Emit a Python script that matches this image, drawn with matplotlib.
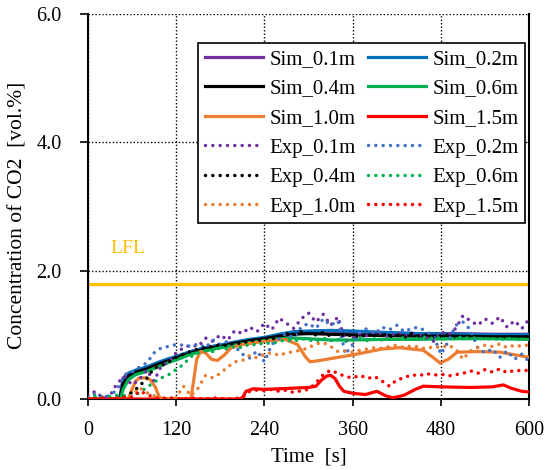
import matplotlib
matplotlib.use("Agg")
import matplotlib.pyplot as plt
import numpy as np

plt.rcParams['font.family'] = ['Liberation Serif', 'DejaVu Serif']

# ---------------- data ----------------
t_sim = [0, 40, 44, 48, 55, 65, 80, 95, 110, 125, 140, 160, 180, 200, 220, 240,
         260, 280, 300, 330, 360, 400, 450, 500, 550, 600]
sim_01 = [0, 0, 0.05, 0.33, 0.40, 0.44, 0.48, 0.55, 0.62, 0.68, 0.74, 0.80, 0.84, 0.88,
          0.92, 0.95, 1.00, 1.04, 1.05, 1.06, 1.05, 1.03, 1.02, 1.02, 1.01, 1.01]
sim_02 = [0, 0, 0.03, 0.30, 0.40, 0.45, 0.50, 0.57, 0.63, 0.68, 0.74, 0.80, 0.84, 0.89,
          0.93, 0.96, 1.01, 1.05, 1.06, 1.07, 1.06, 1.04, 1.02, 1.01, 1.00, 1.00]
sim_04 = [0, 0, 0.02, 0.25, 0.36, 0.42, 0.47, 0.54, 0.60, 0.66, 0.72, 0.78, 0.82, 0.87,
          0.91, 0.94, 0.98, 1.01, 1.02, 1.01, 1.00, 0.99, 0.98, 0.98, 0.97, 0.97]
sim_06 = [0, 0, 0, 0.15, 0.30, 0.38, 0.43, 0.50, 0.57, 0.63, 0.70, 0.75, 0.80, 0.84,
          0.88, 0.91, 0.94, 0.95, 0.94, 0.92, 0.92, 0.93, 0.93, 0.94, 0.94, 0.93]

t_sim_10 = [0, 55, 60, 65, 70, 78, 85, 92, 98, 140, 144, 148, 153, 160, 168, 176, 185,
            195, 210, 240, 268, 285, 295, 302, 315, 335, 361, 400, 424, 456, 468, 479,
            490, 502, 530, 560, 590, 600]
sim_10 = [0, 0, 0.15, 0.28, 0.33, 0.33, 0.30, 0.18, 0, 0, 0.30, 0.62, 0.74, 0.72, 0.62,
          0.60, 0.68, 0.80, 0.85, 0.90, 0.93, 0.85, 0.67, 0.58, 0.60, 0.64, 0.69, 0.78,
          0.80, 0.76, 0.66, 0.56, 0.62, 0.73, 0.74, 0.73, 0.67, 0.65]

t_sim_15 = [0, 205, 210, 215, 225, 240, 260, 280, 300, 310, 318, 325, 330, 336, 342,
            348, 360, 377, 393, 405, 415, 430, 445, 456, 480, 520, 550, 565, 575, 590, 600]
sim_15 = [0, 0, 0.02, 0.12, 0.16, 0.15, 0.16, 0.17, 0.18, 0.20, 0.30, 0.36, 0.37, 0.32,
          0.20, 0.12, 0.09, 0.07, 0.12, 0.05, 0.02, 0.06, 0.15, 0.20, 0.19, 0.18, 0.19,
          0.22, 0.17, 0.12, 0.11]

t_exp = list(range(0, 601, 10))
exp_01 = [0.05, 0.12, 0.02, 0.05, 0.25, 0.35, 0.22, 0.30, 0.45, 0.28, 0.52, 0.58, 0.72,
          0.80, 0.84, 0.82, 0.95, 0.90, 1.00, 0.92, 1.07, 1.02, 1.12, 1.05, 1.18, 1.08,
          1.26, 1.18, 1.10, 1.25, 1.34, 1.20, 1.32, 1.15, 1.28, 0.90, 0.95, 1.02, 0.98,
          1.05, 1.00, 0.97, 1.04, 0.98, 1.02, 1.00, 0.96, 0.90, 1.05, 1.00, 1.10, 1.30,
          1.22, 1.15, 1.25, 1.18, 1.28, 1.12, 1.22, 1.10, 1.25]
exp_02 = [0.02, 0.08, 0.03, 0.05, 0.15, 0.38, 0.42, 0.50, 0.56, 0.72, 0.80, 0.82, 0.85,
          0.84, 0.82, 0.86, 0.80, 0.92, 0.85, 0.90, 0.82, 0.70, 0.64, 0.75, 0.58, 0.85,
          0.95, 1.02, 0.95, 1.12, 1.18, 1.10, 1.25, 1.15, 1.22, 0.70, 0.85, 1.05, 1.10,
          1.02, 1.12, 1.08, 1.15, 1.05, 1.10, 1.12, 1.05, 0.98, 0.70, 0.90, 1.15, 1.20,
          1.08, 0.80, 0.72, 0.78, 0.65, 0.75, 0.62, 0.70, 0.58]
exp_04 = [0, 0.01, 0, 0.02, 0.03, 0.05, 0.10, 0.20, 0.32, 0.48, 0.52, 0.58, 0.65, 0.70,
          0.74, 0.78, 0.80, 0.82, 0.85, 0.83, 0.88, 0.86, 0.92, 0.90, 0.95, 0.93, 0.98,
          1.02, 1.00, 1.05, 1.02, 1.00, 1.04, 0.98, 1.02, 0.98, 1.00, 0.96, 1.01, 0.98,
          1.02, 0.97, 1.00, 0.96, 1.02, 0.98, 1.00, 0.96, 0.98, 1.00, 0.95, 0.98, 0.96,
          0.99, 0.95, 0.97, 0.94, 0.97, 0.95, 0.97, 0.94]
exp_06 = [0.02, 0.05, 0.03, 0.04, 0.06, 0.05, 0.04, 0.10, 0.18, 0.26, 0.33, 0.38, 0.46,
          0.54, 0.66, 0.72, 0.75, 0.74, 0.80, 0.78, 0.82, 0.80, 0.86, 0.84, 0.88, 0.86,
          0.90, 0.92, 0.90, 0.94, 0.92, 0.90, 0.95, 0.91, 0.93, 0.90, 0.92, 0.95, 0.91,
          0.94, 0.92, 0.95, 0.93, 0.96, 0.93, 0.95, 0.97, 0.94, 0.96, 0.93, 0.95, 0.97,
          0.94, 0.96, 0.93, 0.95, 0.92, 0.95, 0.93, 0.94, 0.92]
exp_10 = [0, 0, 0.01, 0, 0.02, 0, 0.05, 0.18, 0.10, 0.05, 0.02, 0, 0.02, 0.20, 0.05,
          0.17, 0.37, 0.33, 0.40, 0.50, 0.58, 0.60, 0.68, 0.64, 0.70, 0.72, 0.68, 0.72,
          0.74, 0.76, 0.80, 0.86, 0.88, 0.82, 0.74, 0.75, 0.73, 0.76, 0.78, 0.80, 0.79,
          0.82, 0.84, 0.80, 0.83, 0.81, 0.78, 0.82, 0.80, 0.84, 0.78, 0.62, 0.75, 0.80,
          0.84, 0.82, 0.86, 0.80, 0.84, 0.82, 0.85]
exp_15 = [0.01, 0, 0.02, 0, 0.01, 0.03, 0.02, 0.12, 0.08, 0.02, 0.01, 0.02, 0.01, 0,
          0.02, 0.01, 0, 0.02, 0.01, 0, 0.01, 0.02, 0.12, 0.14, 0.13, 0.15, 0.12, 0.14,
          0.10, 0.13, 0.15, 0.25, 0.38, 0.45, 0.40, 0.35, 0.33, 0.37, 0.32, 0.35, 0.28,
          0.20, 0.30, 0.33, 0.38, 0.36, 0.40, 0.37, 0.39, 0.36, 0.38, 0.40, 0.44, 0.40,
          0.46, 0.42, 0.47, 0.41, 0.45, 0.44, 0.45]

lfl_value = 1.8
x_ticks = [0, 120, 240, 360, 480, 600]
y_ticks = [0.0, 2.0, 4.0, 6.0]

# ---------------- plot ----------------
fig = plt.figure(figsize=(5.49, 4.70), dpi=100)
ax = fig.add_axes([0.160, 0.151, 0.804, 0.819])

c_purple = '#7030A0'
c_blue = '#0070C0'
c_blue_e = '#4472C4'
c_green = '#00B050'
c_orange = '#ED7D31'
c_red = '#FF0000'

ax.axhline(lfl_value, color='#FFC000', lw=2.4, zorder=2)
ax.text(30, 2.34, 'LFL', color='#FFC000', fontsize=14, va='center', ha='left')

slw = 2.3
h = []
h.append(ax.plot(t_sim, sim_01, color=c_purple, lw=slw, label='Sim_0.1m', zorder=3)[0])
h.append(ax.plot(t_sim, sim_02, color=c_blue, lw=slw, label='Sim_0.2m', zorder=3)[0])
h.append(ax.plot(t_sim, sim_04, color='black', lw=slw, label='Sim_0.4m', zorder=3)[0])
h.append(ax.plot(t_sim, sim_06, color=c_green, lw=slw, label='Sim_0.6m', zorder=3)[0])
h.append(ax.plot(t_sim_10, sim_10, color=c_orange, lw=slw, label='Sim_1.0m', zorder=3)[0])
h.append(ax.plot(t_sim_15, sim_15, color=c_red, lw=slw, label='Sim_1.5m', zorder=3)[0])

elw = 2.5
dots = (0, (0.01, 2.1))
def dplot(y, c, lab):
    l, = ax.plot(t_exp, y, color=c, lw=elw, ls=dots, dash_capstyle='round',
                 label=lab, zorder=4)
    return l
h.append(dplot(exp_01, c_purple, 'Exp_0.1m'))
h.append(dplot(exp_02, c_blue_e, 'Exp_0.2m'))
h.append(dplot(exp_04, 'black', 'Exp_0.4m'))
h.append(dplot(exp_06, c_green, 'Exp_0.6m'))
h.append(dplot(exp_10, c_orange, 'Exp_1.0m'))
h.append(dplot(exp_15, c_red, 'Exp_1.5m'))

ax.set_xlim(0, 600)
ax.set_ylim(0, 6.0)
ax.set_xticks(x_ticks)
ax.set_yticks(y_ticks)
ax.set_yticklabels([f'{v:.1f}' for v in y_ticks])
ax.tick_params(axis='both', labelsize=14.5, direction='out', length=5, width=1.2,
               colors='black')
ax.tick_params(axis='x', pad=11)
ax.tick_params(axis='y', pad=13, length=6)
ax.grid(True, color='black', ls=(0, (1, 1.5)), lw=1.0)
ax.set_axisbelow(True)
ax.spines['top'].set_visible(False)
for s in ['left', 'bottom', 'right']:
    ax.spines[s].set_linewidth(1.5)

ax.set_xlabel('Time  [s]', fontsize=15)
ax.set_ylabel('Concentration of CO2  [vol.%]', fontsize=15.5)
ax.xaxis.set_label_coords(0.5, -0.125)
ax.yaxis.set_label_coords(-0.136, 0.478)

# legend order: row-wise in two columns
order = [0, 2, 4, 6, 8, 10, 1, 3, 5, 7, 9, 11]
hh = [h[i] for i in order]
leg = ax.legend(handles=hh, labels=[x.get_label() for x in hh], ncol=2,
                loc='upper right', bbox_to_anchor=(0.991, 0.925), fontsize=15,
                frameon=True, fancybox=False, edgecolor='black', framealpha=1,
                handlelength=2.8, handletextpad=0.3, columnspacing=0.6,
                labelspacing=0.48, borderpad=0.3, borderaxespad=0)
leg.get_frame().set_linewidth(1.2)

fig.savefig('out.png', dpi=100)
